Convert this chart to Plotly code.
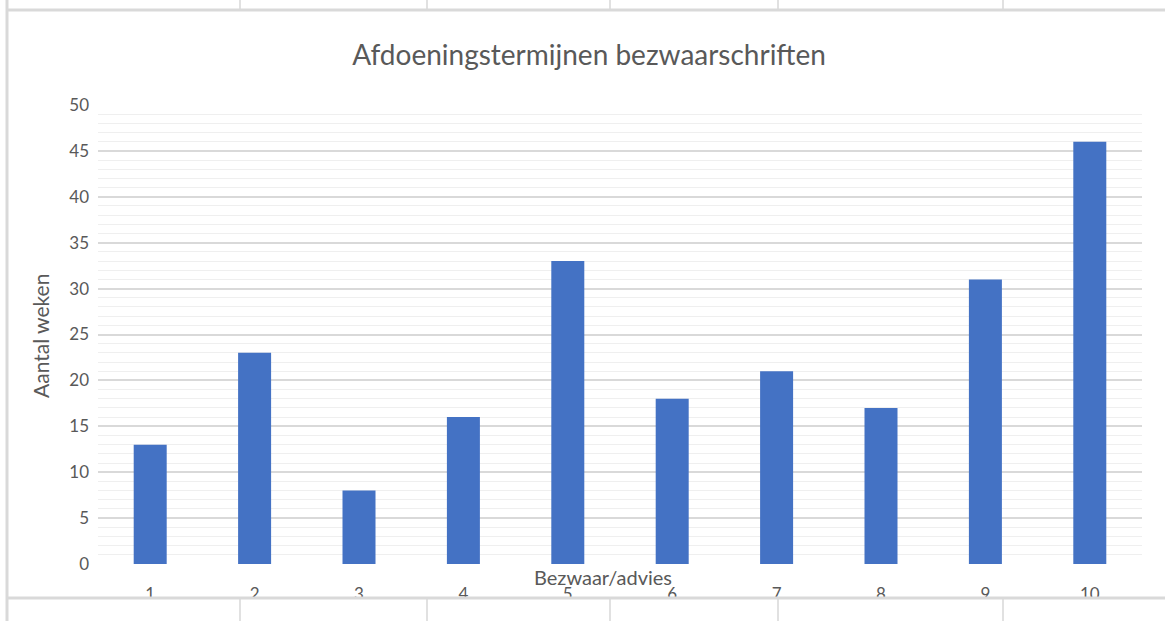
import plotly.graph_objects as go

categories = ["1", "2", "3", "4", "5", "6", "7", "8", "9", "10"]
weeks = [13, 23, 8, 16, 33, 18, 21, 17, 31, 46]
y_ticks = [0, 5, 10, 15, 20, 25, 30, 35, 40, 45, 50]
title_text = "Afdoeningstermijnen bezwaarschriften"
x_title = "Bezwaar/advies"
y_title = "Aantal weken"

W, H = 1165, 621
FONT = "Lato, Carlito, Calibri, sans-serif"
TXT = "#595959"

def px(x):
    return x / W

def py(y):
    return (H - y) / H

fig = go.Figure(go.Bar(x=categories, y=weeks, marker=dict(color="#4472c4", line=dict(width=0))))

shapes = []
shapes.append(dict(type="rect", xref="paper", yref="paper", x0=0, x1=1, y0=0, y1=py(598),
                   fillcolor="white", line=dict(width=0), layer="above"))
shapes.append(dict(type="rect", xref="paper", yref="paper", x0=0, x1=1, y0=py(10), y1=1,
                   fillcolor="white", line=dict(width=0), layer="above"))
for cx in [240, 427, 610, 778, 1003]:
    shapes.append(dict(type="line", xref="paper", yref="paper", x0=px(cx), x1=px(cx), y0=1, y1=py(9),
                       line=dict(color="#e1e1e1", width=2), layer="above"))
    shapes.append(dict(type="line", xref="paper", yref="paper", x0=px(cx), x1=px(cx), y0=py(599), y1=0,
                       line=dict(color="#e1e1e1", width=2), layer="above"))
shapes.append(dict(type="line", xref="paper", yref="paper", x0=px(7), x1=1, y0=py(10), y1=py(10),
                   line=dict(color="#d9d9d9", width=3), layer="above"))
shapes.append(dict(type="line", xref="paper", yref="paper", x0=px(7), x1=1, y0=py(598), y1=py(598),
                   line=dict(color="#d9d9d9", width=3), layer="above"))
shapes.append(dict(type="line", xref="paper", yref="paper", x0=px(7), x1=px(7), y0=0, y1=1,
                   line=dict(color="#d9d9d9", width=3), layer="above"))

fig.update_layout(
    width=W, height=H, autosize=False,
    margin=dict(l=0, r=0, t=0, b=0, pad=0, autoexpand=False),
    paper_bgcolor="white", plot_bgcolor="white",
    showlegend=False,
    bargap=0.684,
    font=dict(family=FONT, color=TXT),
    title=dict(text=title_text, x=px(589), y=py(55), xref="container", yref="container",
               xanchor="center", yanchor="middle", font=dict(size=28, color=TXT, family=FONT)),
    xaxis=dict(domain=[px(98), px(1142)], showgrid=False, showline=False, ticks="", automargin=False,
               tickfont=dict(size=17, color=TXT), ticklabelstandoff=18, zeroline=False),
    yaxis=dict(domain=[py(564), py(105)], range=[0, 50], tickvals=y_ticks, automargin=False,
               showgrid=True, gridcolor="#d9d9d9", gridwidth=1.5, zeroline=False, showline=False,
               ticks="", tickfont=dict(size=17, color=TXT), ticklabelstandoff=8,
               minor=dict(dtick=1, showgrid=True, gridcolor="#efefef", gridwidth=1)),
    shapes=shapes,
    annotations=[
        dict(text=x_title, xref="paper", yref="paper", x=px(603), y=py(577), showarrow=False,
             xanchor="center", yanchor="middle", font=dict(size=20, color=TXT, family=FONT)),
        dict(text=y_title, xref="paper", yref="paper", x=px(40), y=py(336), showarrow=False,
             textangle=-90, xanchor="center", yanchor="middle", font=dict(size=21, color=TXT, family=FONT)),
    ],
)

fig.write_html("out.html", config={"displayModeBar": False},
               post_script="document.body.style.margin='0';")
